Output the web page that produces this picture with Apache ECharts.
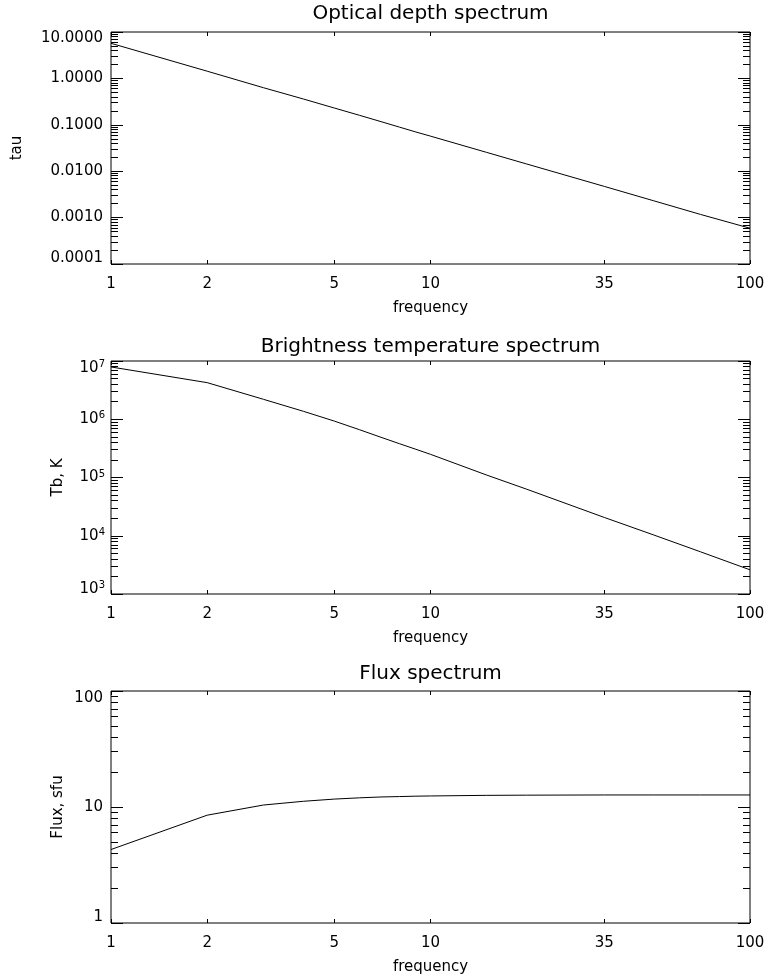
<!DOCTYPE html>
<html>
<head>
<meta charset="utf-8">
<script src="https://cdn.jsdelivr.net/npm/echarts@6/dist/echarts.min.js"></script>
<style>html,body{margin:0;padding:0;background:#fff}#c{width:769px;height:979px}</style>
</head>
<body>
<div id="c"></div>
<script>
// ---- data ----
const freq = [1, 2, 3, 4, 5, 6, 7, 8, 9, 10, 15, 20, 35, 50, 70, 100];
const tau  = [5.7, 1.43, 0.63, 0.36, 0.23, 0.16, 0.117, 0.089, 0.070, 0.057, 0.0254, 0.0143, 0.0047, 0.0023, 0.00117, 0.00059];
const tb   = [7.9e6, 4.25e6, 2.2e6, 1.37e6, 9.3e5, 6.6e5, 4.9e5, 3.8e5, 3.05e5, 2.5e5, 1.1e5, 6.3e4, 2.06e4, 1.03e4, 5.3e3, 2.6e3];
const flux = [4.3, 8.5, 10.4, 11.2, 11.7, 12.0, 12.2, 12.3, 12.4, 12.45, 12.6, 12.65, 12.7, 12.7, 12.7, 12.7];

// ---- tick labels ----
const xTicks   = [1, 2, 5, 10, 35, 100];
const tauTicks = [0.0001, 0.001, 0.01, 0.1, 1, 10];
const tbTicks  = [1e3, 1e4, 1e5, 1e6, 1e7];
const fluxTicks = [1, 10, 100];
const titles = ['Optical depth spectrum', 'Brightness temperature spectrum', 'Flux spectrum'];
const yNames = ['tau', 'Tb, K', 'Flux, sfu'];

function minorTicks(majors) {
  const out = [];
  for (let i = 0; i < majors.length - 1; i++) {
    for (let m = 2; m <= 9; m++) out.push(Number((m * majors[i]).toPrecision(3)));
  }
  return out;
}

const FONT = 'DejaVu Sans';
const gridTops = [32, 361, 691];
const gridH = [232, 233, 232];
const titleTops = [4, 337, 664];
const GL = 111, GW = 639;

const grids = gridTops.map((t, i) => ({
  left: GL, width: GW, top: t, height: gridH[i],
  show: true, borderColor: '#000', borderWidth: 1, backgroundColor: 'transparent',
  containLabel: false, outerBoundsMode: 'none'
}));

const titleOpts = titles.map((t, i) => ({
  text: t, left: GL + GW / 2, textAlign: 'center', top: titleTops[i], padding: 0,
  textStyle: { fontFamily: FONT, fontSize: 20, fontWeight: 'normal', color: '#000' }
}));

const xAxes = [];
const yAxes = [];
const series = [];

const yCfg = [
  { min: 0.0001, max: 10, ticks: tauTicks, name: yNames[0], nameGap: 86,
    fmt: v => { const s = v.toFixed(4); if (v >= 10) return '{hi|' + s + '}'; if (v <= 0.0001) return '{lo|' + s + '}'; return s; },
    rich: { hi: { padding: [12, 0, 0, 0] }, lo: { padding: [0, 0, 12, 0] } }, margin: 8, data: tau },
  { min: 1e3, max: 1e7, ticks: tbTicks, name: yNames[1], nameGap: 45,
    fmt: v => { const e = Math.round(Math.log10(v)); if (e >= 7) return '{bH|10}{sH|' + e + '}'; if (e <= 3) return '{bL|10}{sL|' + e + '}'; return '{b|10}{s|' + e + '}'; },
    rich: {
      b: { fontSize: 15, height: 17, verticalAlign: 'bottom' },
      s: { fontSize: 10, verticalAlign: 'top' },
      bH: { fontSize: 15, height: 17, padding: [14, 0, 0, 0], verticalAlign: 'bottom' },
      sH: { fontSize: 10, padding: [14, 0, 0, 0], verticalAlign: 'top' },
      bL: { fontSize: 15, height: 17, padding: [0, 0, 10, 0], verticalAlign: 'top' },
      sL: { fontSize: 10, verticalAlign: 'top' }
    }, margin: 6, data: tb },
  { min: 1, max: 100, ticks: fluxTicks, name: yNames[2], nameGap: 45,
    fmt: v => { const s = String(Math.round(v)); if (v >= 100) return '{hi|' + s + '}'; if (v <= 1) return '{lo|' + s + '}'; return s; },
    rich: { hi: { padding: [14, 0, 0, 0] }, lo: { padding: [0, 0, 11, 0] } }, margin: 8, data: flux }
];

for (let i = 0; i < 3; i++) {
  const c = yCfg[i];
  const baseX = {
    type: 'log', logBase: 10, min: 1, max: 100, gridIndex: i,
    axisLine: { show: false }, splitLine: { show: false }, minorTick: { show: false },
    axisTick: { show: true, inside: true, length: 4, lineStyle: { color: '#000', width: 1 }, customValues: xTicks }
  };
  xAxes.push(Object.assign({}, baseX, {
    position: 'bottom',
    axisLabel: { show: true, customValues: xTicks, formatter: v => String(Math.round(v)), color: '#000',
      fontFamily: FONT, fontSize: 15, margin: 13, showMinLabel: true, showMaxLabel: true },
    name: 'frequency', nameLocation: 'middle', nameGap: 37, nameMoveOverlap: false,
    nameTextStyle: { fontFamily: FONT, fontSize: 15, color: '#000' }
  }));
  xAxes.push(Object.assign({}, baseX, { position: 'top', axisLabel: { show: false } }));

  const minors = minorTicks(c.ticks);
  const baseY = {
    type: 'log', logBase: 10, min: c.min, max: c.max, gridIndex: i, offset: 0,
    axisLine: { show: false }, splitLine: { show: false }, minorTick: { show: false }
  };
  // left major with labels
  yAxes.push(Object.assign({}, baseY, {
    position: 'left',
    axisTick: { show: true, inside: true, length: 12, lineStyle: { color: '#000' }, customValues: c.ticks },
    axisLabel: { show: true, customValues: c.ticks, formatter: c.fmt, rich: c.rich, color: '#000',
      fontFamily: FONT, fontSize: 15, margin: c.margin, showMinLabel: true, showMaxLabel: true },
    name: c.name, nameLocation: 'middle', nameGap: c.nameGap, nameRotate: 90, nameMoveOverlap: false,
    nameTextStyle: { fontFamily: FONT, fontSize: 15, color: '#000' }
  }));
  // left minor
  yAxes.push(Object.assign({}, baseY, {
    position: 'left',
    axisTick: { show: true, inside: true, length: 7, lineStyle: { color: '#000' }, customValues: minors },
    axisLabel: { show: false }
  }));
  // right major
  yAxes.push(Object.assign({}, baseY, {
    position: 'right',
    axisTick: { show: true, inside: true, length: 12, lineStyle: { color: '#000' }, customValues: c.ticks },
    axisLabel: { show: false }
  }));
  // right minor
  yAxes.push(Object.assign({}, baseY, {
    position: 'right',
    axisTick: { show: true, inside: true, length: 7, lineStyle: { color: '#000' }, customValues: minors },
    axisLabel: { show: false }
  }));

  series.push({
    type: 'line', xAxisIndex: i * 2, yAxisIndex: i * 4,
    data: freq.map((f, k) => [f, c.data[k]]),
    showSymbol: false, symbol: 'none', smooth: false,
    lineStyle: { color: '#000', width: 1 }, silent: true
  });
}

const chart = echarts.init(document.getElementById('c'), null, { renderer: 'canvas' });
chart.setOption({
  animation: false,
  backgroundColor: '#fff',
  textStyle: { fontFamily: FONT, color: '#000' },
  title: titleOpts,
  grid: grids,
  xAxis: xAxes,
  yAxis: yAxes,
  series: series
});
</script>
</body>
</html>
